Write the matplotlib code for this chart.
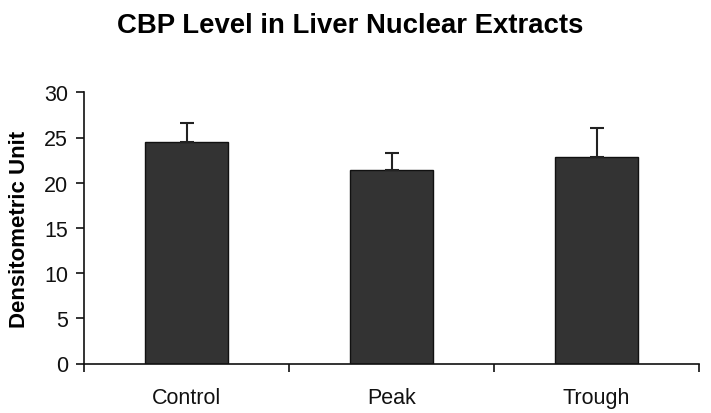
import matplotlib
matplotlib.use("Agg")
import matplotlib.pyplot as plt
from matplotlib.ticker import FixedLocator, NullFormatter

categories = ["Control", "Peak", "Trough"]
values = [24.5, 21.4, 22.8]
errors = [2.1, 1.9, 3.3]
yticks = [0, 5, 10, 15, 20, 25, 30]

plt.rcParams["font.family"] = ["Liberation Sans", "DejaVu Sans"]

fig = plt.figure(figsize=(7.11, 4.14), dpi=100)
ax = fig.add_axes([84/711, 1-364.5/414, (699-84)/711, (364.5-93.3)/414])

x = list(range(len(categories)))
ax.bar(x, values, width=0.405, color="#333333", edgecolor="#111111", linewidth=1.0, zorder=2)
ax.errorbar(x, values, yerr=[[0]*len(errors), errors], fmt="none", ecolor="#222222",
            elinewidth=1.5, capsize=5.2, capthick=1.5, zorder=3)

ax.set_xlim(-0.5, len(categories)-0.5)
ax.set_ylim(0, 30)
ax.set_yticks(yticks)
ax.set_yticklabels([str(t) for t in yticks])

ax.xaxis.set_major_locator(FixedLocator([i-0.5 for i in range(len(categories)+1)]))
ax.xaxis.set_major_formatter(NullFormatter())
ax.xaxis.set_minor_locator(FixedLocator(x))
ax.set_xticklabels(categories, minor=True)

ax.spines["top"].set_visible(False)
ax.spines["right"].set_visible(False)
for s in ["left", "bottom"]:
    ax.spines[s].set_linewidth(1.2)
    ax.spines[s].set_color("#111111")

ax.tick_params(axis="y", which="major", direction="out", length=5.5, width=1.2,
               labelsize=15.5, pad=6, colors="#111111")
ax.tick_params(axis="x", which="major", direction="out", length=5.5, width=1.2, colors="#111111")
ax.tick_params(axis="x", which="minor", length=0, labelsize=15.5, pad=17, labelcolor="#111111")

fig.text(350/711, 1-33/414, "CBP Level in Liver Nuclear Extracts", ha="center", va="baseline",
         fontsize=19.8, fontweight="bold", color="#000000")
fig.text(19.5/711, 1-229/414, "Densitometric Unit", rotation=90, ha="center", va="center",
         fontsize=16, fontweight="bold", color="#000000")

fig.savefig("out.png", dpi=100)
